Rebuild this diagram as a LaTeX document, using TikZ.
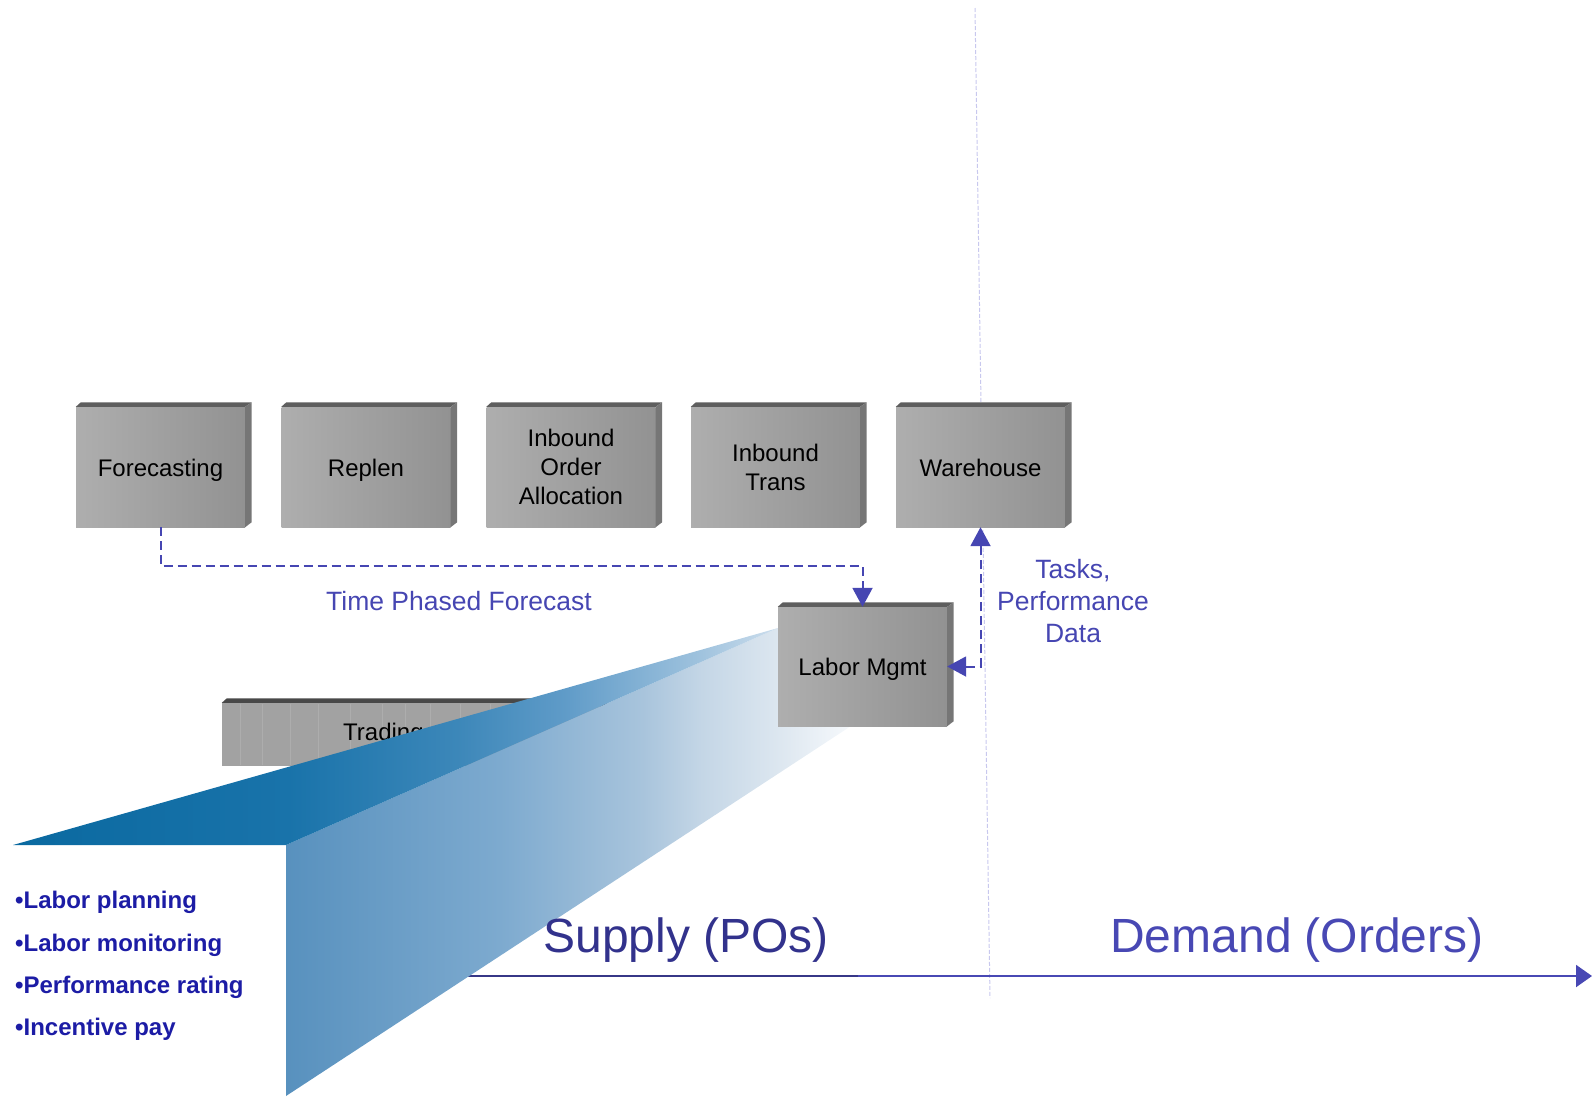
\documentclass[tikz,border=0pt]{standalone}
\usepackage{fontspec}
\setmainfont{Liberation Sans}
\usetikzlibrary{arrows.meta}
\definecolor{lblue}{RGB}{70,70,178}
\definecolor{supc}{RGB}{50,50,140}
\definecolor{demc}{RGB}{72,72,180}
\definecolor{bulc}{RGB}{28,28,165}
\definecolor{faint}{RGB}{200,200,238}
\definecolor{boxL}{RGB}{174,174,174}
\definecolor{boxR}{RGB}{146,146,146}
\definecolor{topc}{RGB}{94,94,94}
\definecolor{sidec}{RGB}{118,118,118}
\definecolor{trc}{RGB}{162,162,162}
\definecolor{trtop}{RGB}{72,72,72}
\definecolor{axdark}{RGB}{55,55,135}
% band colours
\definecolor{bA}{RGB}{10,105,160}
\definecolor{bB}{RGB}{25,115,170}
\definecolor{bC}{RGB}{60,135,185}
\definecolor{bD}{RGB}{95,155,200}
\definecolor{bE}{RGB}{160,195,222}
\definecolor{bF}{RGB}{205,222,237}
% front face colours
\definecolor{fA}{RGB}{88,145,190}
\definecolor{fB}{RGB}{125,170,207}
\definecolor{fC}{RGB}{168,196,220}
\definecolor{fD}{RGB}{196,214,230}
\definecolor{fE}{RGB}{221,231,240}
\definecolor{fF}{RGB}{242,246,250}
\pgfdeclarehorizontalshading{bandshade}{100bp}{color(0bp)=(bA); color(25bp)=(bA); color(43bp)=(bB); color(54bp)=(bC); color(61bp)=(bD); color(70bp)=(bE); color(75bp)=(bF); color(100bp)=(bF)}
\pgfdeclarehorizontalshading{frontshade}{100bp}{color(0bp)=(fA); color(25bp)=(fA); color(43bp)=(fB); color(55bp)=(fC); color(60bp)=(fD); color(66.6bp)=(fE); color(71.6bp)=(fF); color(75bp)=(white); color(100bp)=(white)}
\newcommand{\boxbevel}[3]{%
  \fill[#2] (#1.north west) -- ++(5,-4.5) -- ([shift={(6.5,-4.5)}]#1.north east) -- (#1.north east) -- cycle;
  \fill[#3] (#1.north east) -- ++(6.5,-4.5) -- ([shift={(6.5,-5)}]#1.south east) -- (#1.south east) -- cycle;}
\begin{document}
\begin{tikzpicture}[x=1pt,y=-1pt,
  box/.style={left color=boxL, right color=boxR, minimum width=169pt, minimum height=120pt,
    inner sep=0pt, align=center, font=\fontsize{24}{29}\selectfont, text=black},
  oneline/.style={text height=20pt, text depth=2pt},
  conn/.style={draw=lblue, line width=2pt, dash pattern=on 9pt off 5pt},
  tip/.tip={Triangle[length=19pt,width=20pt]},
  lbl/.style={text=lblue, align=center, font=\fontsize{26.5}{31.7}\selectfont},
  bul/.style={anchor=base west, text=bulc, font=\fontsize{24}{29}\selectfont\bfseries, inner sep=0pt}]
\useasboundingbox (0,0) rectangle (1592,1096);

% faint vertical divider
\coordinate (vtop) at (975,8);
\coordinate (vbot) at (990,998);
\draw[faint, line width=1pt, dash pattern=on 4pt off 2pt] (vtop) -- (vbot);

% top row of boxes
\node[box, oneline] (fc) at (160.5,467) {Forecasting};
\node[box, oneline] (rp) at (366,467) {Replen};
\node[box] (ioa) at (571,467) {Inbound\\Order\\Allocation};
\node[box] (it) at (775.5,467) {Inbound\\Trans};
\node[box, oneline] (wh) at (980.5,467) {Warehouse};
\foreach \n in {fc,rp,ioa,it,wh} {\boxbevel{\n}{topc}{sidec}}

% axis
\coordinate (ax0) at (300,976);
\coordinate (axm) at (858,976);
\coordinate (ax1) at (1592,976);
\draw[demc, line width=2pt, -{Triangle[length=16pt,width=22pt]}] (ax0) -- (ax1);
\draw[axdark, line width=2.4pt] (ax0) -- (axm);

% trading box (partly hidden)
\node[fill=trc, minimum width=378pt, minimum height=63pt, inner sep=0pt] (tr) at (411,734.5) {};
\foreach \x in {240,262,290,318,350,382,405,430,460,490,520,550,580}
  \draw[white, opacity=0.12, line width=0.8pt] (\x,704) -- (\x,765);
\boxbevel{tr}{trtop}{trtop}
\node[anchor=west, inner sep=0pt, font=\fontsize{24}{29}\selectfont] (trt) at (343,734) {Trading};

% blue wedge
\shade[shading=frontshade] (286,845) -- (778,628) -- (880,628) -- (880,707) -- (286,1096) -- cycle;
\shade[shading=bandshade] (13,845) -- (778,628) -- (286,845) -- cycle;

% labor mgmt box
\node[box, oneline, minimum height=119pt] (lm) at (862.5,666.5) {Labor Mgmt};
\boxbevel{lm}{topc}{sidec}

% connectors
\draw[conn, -tip] (fc.south) -- ++(0,39) -| (lm.north);
\draw[conn, tip-tip] (lm.east) -| (wh.south);

% labels
\node[lbl, anchor=base] (tpf) at (459,610) {Time Phased Forecast};
\node[lbl] (tpd) at (1073,601) {Tasks,\\Performance\\Data};

\node[anchor=base, inner sep=0pt, text=supc, font=\fontsize{48}{56}\selectfont] (sup) at (686,952) {Supply (POs)};
\node[anchor=base, inner sep=0pt, text=demc, font=\fontsize{48}{56}\selectfont] (dem) at (1297,952) {Demand (Orders)};

\node[bul] (b1) at (15,908) {•Labor planning};
\node[bul] (b2) at (15,951) {•Labor monitoring};
\node[bul] (b3) at (15,993) {•Performance rating};
\node[bul] (b4) at (15,1035) {•Incentive pay};
\end{tikzpicture}
\end{document}
